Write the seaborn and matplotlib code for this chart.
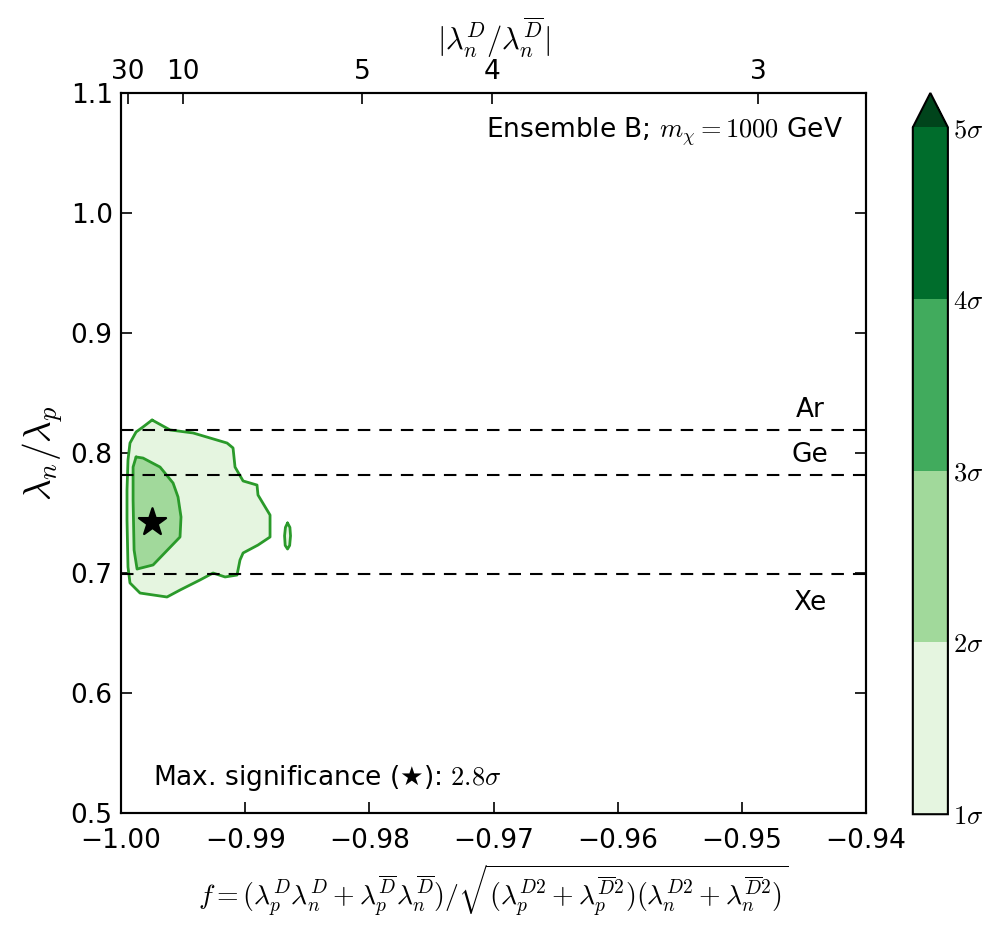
import numpy as np
import pandas as pd
import matplotlib
matplotlib.use('Agg')
import matplotlib.pyplot as plt
import seaborn as sns
from matplotlib.colors import ListedColormap, BoundaryNorm
from matplotlib.cm import ScalarMappable
from matplotlib.ticker import FuncFormatter

# 1 sigma region boundary (f, lambda_n/lambda_p)
outer_f = [-0.99750, -0.99605, -0.99420, -0.99146, -0.99098, -0.99082, -0.99017, -0.98905,
           -0.98897, -0.98800, -0.98800, -0.98897, -0.99017, -0.99042, -0.99066, -0.99162,
           -0.99259, -0.99364, -0.99525, -0.99630, -0.99847, -0.99928, -0.99944, -0.99952,
           -0.99952, -0.99944, -0.99928, -0.99879, -0.99823]
outer_r = [0.8275, 0.8192, 0.8167, 0.8083, 0.8042, 0.7883, 0.7767, 0.7733,
           0.7650, 0.7483, 0.7300, 0.7233, 0.7167, 0.7108, 0.6983, 0.6967,
           0.7000, 0.6942, 0.6858, 0.6800, 0.6833, 0.6917, 0.7050, 0.7442,
           0.7692, 0.7942, 0.8083, 0.8175, 0.8217]
# small 1 sigma island
island_f = [-0.98659, -0.98640, -0.98635, -0.98642, -0.98659, -0.98678, -0.98683, -0.98676]
island_r = [0.7417, 0.7380, 0.7310, 0.7230, 0.7200, 0.7230, 0.7310, 0.7380]
# 2 sigma region boundary
inner_f = [-0.99879, -0.99823, -0.99686, -0.99581, -0.99541, -0.99517, -0.99525, -0.99742,
           -0.99871, -0.99895, -0.99903, -0.99903]
inner_r = [0.7967, 0.7958, 0.7883, 0.7750, 0.7633, 0.7467, 0.7300, 0.7067,
           0.7033, 0.7192, 0.7608, 0.7883]

best_f, best_r = -0.99750, 0.7425
max_sig = 2.8

targets = ['Ar', 'Ge', 'Xe']
target_r = [0.819, 0.782, 0.699]
target_label_r = [0.836, 0.798, 0.675]

top_ratio = [30, 10, 5, 4, 3]
levels = [1, 2, 3, 4, 5]
colors = ['#e5f5e0', '#a1d99b', '#41ab5d', '#006d2c', '#00441b']
line_col = '#2a9a2a'

sns.set_style('ticks')
plt.rcParams['font.family'] = ['DejaVu Sans']
plt.rcParams['mathtext.fontset'] = 'cm'
plt.rcParams['lines.scale_dashes'] = False
for k in ['text.color', 'axes.labelcolor', 'xtick.color', 'ytick.color', 'axes.edgecolor']:
    plt.rcParams[k] = 'k'

fig = plt.figure(figsize=(10.02, 9.3), dpi=100)
ax = fig.add_axes([0.1208, 0.1258, 0.7435, 0.7742])

def closed(xs, ys):
    return pd.DataFrame({'f': list(xs) + [xs[0]], 'r': list(ys) + [ys[0]]})

for fs, rs, c in [(outer_f, outer_r, colors[0]), (island_f, island_r, colors[0]), (inner_f, inner_r, colors[1])]:
    d = closed(fs, rs)
    ax.fill(d['f'], d['r'], color=c, lw=0, zorder=1)
    sns.lineplot(data=d, x='f', y='r', sort=False, estimator=None, color=line_col, lw=2.0, ax=ax, zorder=2)

for r in target_r:
    ax.axhline(r, color='k', ls='--', dashes=(9, 6.5), lw=1.5, zorder=3)
for t, yl in zip(targets, target_label_r):
    ax.text(-0.9445, yl, t, ha='center', va='center', fontsize=19)

sns.scatterplot(x=[best_f], y=[best_r], marker='*', s=420, color='k', edgecolor='k', ax=ax, zorder=4)

minus = lambda fmt: FuncFormatter(lambda v, p: (fmt % v).replace('-', '\u2212'))
ax.set_xlim(-1.0, -0.94)
ax.set_ylim(0.5, 1.1)
ax.set_xticks(np.arange(-1.0, -0.9399, 0.01))
ax.set_yticks(np.arange(0.5, 1.1001, 0.1))
ax.xaxis.set_major_formatter(minus('%.2f'))
ax.yaxis.set_major_formatter(minus('%.1f'))
ax.tick_params(direction='in', length=8, width=1.2, labelsize=19, top=False, right=True, pad=6)
ax.tick_params(axis='x', pad=11)
for s in ax.spines.values():
    s.set_linewidth(1.5)
ax.set_xlabel(r'$f = (\lambda_p^D\lambda_n^D + \lambda_p^{\overline{D}}\lambda_n^{\overline{D}})/'
              r'\sqrt{(\lambda_p^{D2}+\lambda_p^{\overline{D}2})(\lambda_n^{D2}+\lambda_n^{\overline{D}2})}$',
              fontsize=20, labelpad=6)
ax.set_ylabel(r'$\lambda_n/\lambda_p$', fontsize=27, labelpad=4)

ax.text(0.969, 0.946, r'Ensemble B; $m_\chi = 1000$ GeV', transform=ax.transAxes,
        ha='right', va='center', fontsize=19)
ax.text(0.043, 0.049, 'Max. significance (\u2605): $%.1f\\sigma$' % max_sig, transform=ax.transAxes,
        ha='left', va='center', fontsize=19)

# top axis: |lambda_n^D / lambda_n^Dbar| with f = -r/sqrt(1+r^2)
ax2 = ax.twiny()
ax2.set_xlim(ax.get_xlim())
top_ratio_arr = np.array(top_ratio, dtype=float)
ax2.set_xticks(-top_ratio_arr / np.sqrt(1 + top_ratio_arr ** 2))
ax2.set_xticklabels([str(v) for v in top_ratio])
ax2.tick_params(direction='in', length=8, width=1.2, labelsize=19, pad=6)
ax2.set_xlabel(r'$|\lambda_n^D/\lambda_n^{\overline{D}}|$', fontsize=22, labelpad=6)
for s in ax2.spines.values():
    s.set_linewidth(1.5)

# colorbar
cax = fig.add_axes([0.911, 0.1245, 0.035, 0.7755])
cmap = ListedColormap(colors[:4])
cmap.set_over(colors[4])
norm = BoundaryNorm(levels, cmap.N)
cb = fig.colorbar(ScalarMappable(norm=norm, cmap=cmap), cax=cax, extend='max', ticks=levels)
cb.set_ticklabels([r'$%d\sigma$' % l for l in levels])
cb.ax.tick_params(direction='in', length=8, width=1.2, labelsize=19, pad=4)
cb.outline.set_linewidth(1.5)
cb.outline.set_edgecolor('k')

fig.savefig('out.png', dpi=100)
